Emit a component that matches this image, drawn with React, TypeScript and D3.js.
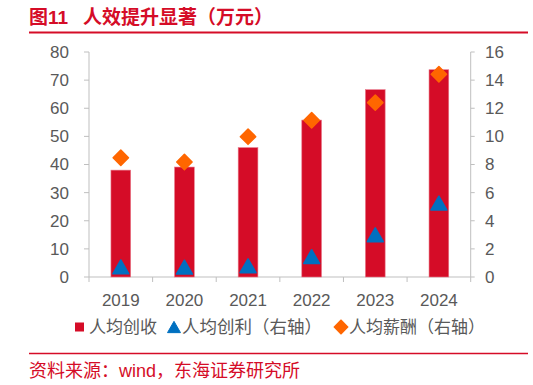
import React from "react";
import * as d3 from "d3";

const years = ["2019", "2020", "2021", "2022", "2023", "2024"];
const revenuePerCapita = [38.0, 39.1, 46.0, 55.8, 66.6, 73.7];
const profitPerCapita = [0.72, 0.7, 0.8, 1.45, 3.0, 5.25];
const salaryPerCapita = [8.48, 8.18, 9.98, 11.15, 12.4, 14.42];
const leftTicks = [0, 10, 20, 30, 40, 50, 60, 70, 80];
const rightTicks = [0, 2, 4, 6, 8, 10, 12, 14, 16];
const legendLabels = ["人均创收", "人均创利（右轴）", "人均薪酬（右轴）"];
const titleNumber = "图11";
const titleText = "人效提升显著（万元）";
const sourceText = "资料来源：wind，东海证券研究所";

const W = 533;
const H = 385;
const RED = "#D50C27";
const BLUE = "#0070C0";
const ORANGE = "#FF6600";
const AXIS = "#BFBFBF";
const TEXT = "#595959";
const FONT = "'Liberation Sans', Arial, 'Noto Sans CJK SC', sans-serif";

export default function App() {
  const left = 89;
  const right = 470.7;
  const top = 52;
  const bottom = 277;

  const x = d3.scaleBand<string>().domain(years).range([left, right]).padding(0);
  const yL = d3.scaleLinear().domain([0, 80]).range([bottom, top]);
  const yR = d3.scaleLinear().domain([0, 16]).range([bottom, top]);
  const barW = x.bandwidth() * 0.31;

  const triSide = 16;
  const triH = (triSide * Math.sqrt(3)) / 2;
  const triPath = (cx: number, cy: number, s = triSide) => {
    const h = (s * Math.sqrt(3)) / 2;
    return `M${cx},${cy - h / 2}L${cx + s / 2},${cy + h / 2}L${cx - s / 2},${cy + h / 2}Z`;
  };
  void triH;
  const diamond = d3.symbol().type(d3.symbolSquare).size(118)();

  const boundaries = [...years.map((y) => x(y) as number), right];

  return (
    <svg width={W} height={H} style={{ position: "absolute", left: 0, top: 0 }} fontFamily={FONT}>
      <rect width={W} height={H} fill="#fff" />
      {/* title */}
      <text x={29} y={23.5} fill={RED} fontSize={19} fontWeight="bold">
        {titleNumber}
      </text>
      <text x={83} y={23.5} fill={RED} fontSize={19} fontWeight="bold">
        {titleText}
      </text>
      <line x1={29} x2={528} y1={32.5} y2={32.5} stroke={RED} strokeWidth={2} />

      {/* axes */}
      <line x1={left} x2={left} y1={top} y2={bottom} stroke={AXIS} />
      <line x1={right} x2={right} y1={top} y2={bottom} stroke={AXIS} />
      <line x1={left} x2={right} y1={bottom} y2={bottom} stroke={AXIS} />
      {leftTicks.map((t) => (
        <g key={"l" + t}>
          <line x1={left - 5} x2={left} y1={yL(t)} y2={yL(t)} stroke={AXIS} />
          <text x={69} y={yL(t)} dy="0.35em" textAnchor="end" fontSize={17} fill={TEXT}>
            {t}
          </text>
        </g>
      ))}
      {rightTicks.map((t) => (
        <g key={"r" + t}>
          <line x1={right} x2={right + 4} y1={yR(t)} y2={yR(t)} stroke={AXIS} />
          <text x={485} y={yR(t)} dy="0.35em" textAnchor="start" fontSize={17} fill={TEXT}>
            {t}
          </text>
        </g>
      ))}
      {boundaries.map((b, i) => (
        <line key={"b" + i} x1={b} x2={b} y1={bottom} y2={bottom + 5} stroke={AXIS} />
      ))}
      {years.map((yr) => (
        <text
          key={"x" + yr}
          x={(x(yr) as number) + x.bandwidth() / 2}
          y={306}
          textAnchor="middle"
          fontSize={17}
          fill={TEXT}
        >
          {yr}
        </text>
      ))}

      {/* bars */}
      {years.map((yr, i) => {
        const cx = (x(yr) as number) + x.bandwidth() / 2;
        return (
          <rect
            key={"bar" + yr}
            x={cx - barW / 2}
            y={yL(revenuePerCapita[i])}
            width={barW}
            height={bottom - yL(revenuePerCapita[i])}
            fill={RED}
            stroke="#E8798A"
            strokeWidth={0.6}
          />
        );
      })}

      {/* triangles */}
      {years.map((yr, i) => {
        const cx = (x(yr) as number) + x.bandwidth() / 2;
        return (
          <path
            key={"tri" + yr}
            d={triPath(cx, yR(profitPerCapita[i]))}
            fill={BLUE}
            stroke={BLUE}
            strokeWidth={1.5}
            strokeLinejoin="round"
          />
        );
      })}

      {/* diamonds */}
      {years.map((yr, i) => {
        const cx = (x(yr) as number) + x.bandwidth() / 2;
        return (
          <path
            key={"dia" + yr}
            d={diamond as string}
            transform={`translate(${cx},${yR(salaryPerCapita[i])}) rotate(45)`}
            fill={ORANGE}
            stroke={ORANGE}
            strokeWidth={1.5}
            strokeLinejoin="round"
          />
        );
      })}

      {/* legend */}
      <rect x={75} y={322.5} width={9} height={9} fill={RED} />
      <text x={89} y={333} fontSize={17} fill={TEXT}>
        {legendLabels[0]}
      </text>
      <path d={triPath(174, 327, 13)} fill={BLUE} stroke={BLUE} strokeWidth={1} strokeLinejoin="round" />
      <text x={182} y={333} fontSize={17.5} fill={TEXT}>
        {legendLabels[1]}
      </text>
      <path
        d={d3.symbol().type(d3.symbolSquare).size(100)() as string}
        transform="translate(341,327) rotate(45)"
        fill={ORANGE}
        stroke={ORANGE}
        strokeWidth={1}
        strokeLinejoin="round"
      />
      <text x={349} y={333} fontSize={17} fill={TEXT}>
        {legendLabels[2]}
      </text>

      {/* source */}
      <line x1={29} x2={528} y1={353.5} y2={353.5} stroke={RED} strokeWidth={1.5} />
      <text x={29} y={376.5} fill={RED} fontSize={18}>
        {sourceText}
      </text>
    </svg>
  );
}
